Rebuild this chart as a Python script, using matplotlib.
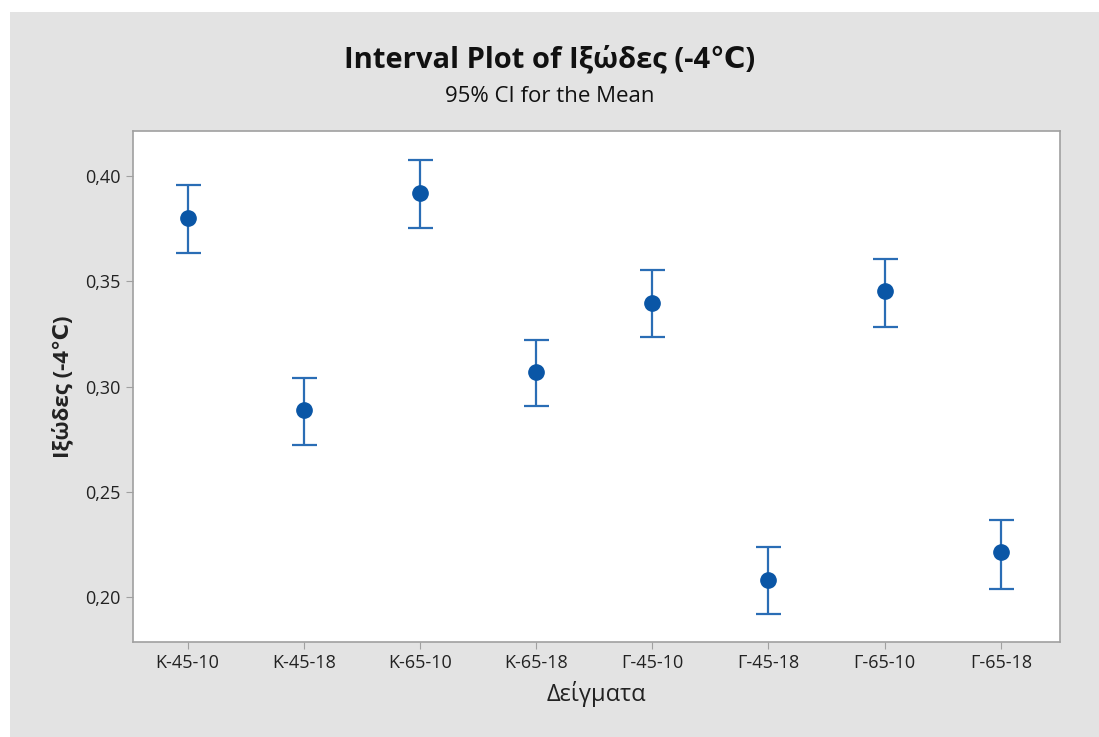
import matplotlib
matplotlib.use("Agg")
import matplotlib.pyplot as plt
from matplotlib.patches import Rectangle
from matplotlib.ticker import FuncFormatter

categories = ["K-45-10", "K-45-18", "K-65-10", "K-65-18", "Γ-45-10", "Γ-45-18", "Γ-65-10", "Γ-65-18"]
means = [0.380, 0.2888, 0.3919, 0.3069, 0.3397, 0.2081, 0.3454, 0.2214]
upper = [0.3957, 0.3040, 0.4076, 0.3221, 0.3553, 0.2238, 0.3606, 0.2366]
lower = [0.3634, 0.2722, 0.3753, 0.2907, 0.3235, 0.1919, 0.3283, 0.2038]
yticks = [0.20, 0.25, 0.30, 0.35, 0.40]

plt.rcParams['font.family'] = ['Open Sans', 'DejaVu Sans']

fig = plt.figure(figsize=(10.99, 7.37), dpi=100, facecolor='white')
fig.patches.append(Rectangle((10/1099, 0), 1 - 10/1099, 1 - 12/737, transform=fig.transFigure,
                             facecolor='#e3e3e3', edgecolor='none', zorder=-10))

ax = fig.add_axes([133/1099, 1 - 642/737, (1060-133)/1099, (642-131)/737])
ax.set_facecolor('white')

x = list(range(len(categories)))
yerr = [[m - l for m, l in zip(means, lower)], [u - m for m, u in zip(means, upper)]]
ax.errorbar(x, means, yerr=yerr, fmt='o', color='#0a56a6', ecolor='#2a6db5',
            markersize=11, elinewidth=1.6, capsize=9, capthick=1.6)

ax.set_xlim(-0.47, 7.51)
ax.set_ylim(0.1786, 0.4214)
ax.set_xticks(x)
ax.set_xticklabels(categories)
ax.set_yticks(yticks)
ax.yaxis.set_major_formatter(FuncFormatter(lambda v, p: f"{v:.2f}".replace('.', ',')))

for s in ax.spines.values():
    s.set_color('#a0a0a0')
    s.set_linewidth(1.2)
ax.tick_params(axis='both', direction='out', length=5, color='#a0a0a0', labelsize=13,
               labelcolor='#222222', pad=4)

ax.set_xlabel("Δείγματα", fontsize=17, color='#222222', labelpad=6)
ax.set_ylabel("Ιξώδες (-4℃)", fontsize=16, fontweight='bold', color='#222222', labelpad=8)

fig.text(0.5, 1 - 60/737, "Interval Plot of Ιξώδες (-4℃)", ha='center', va='center',
         fontsize=21, fontweight='bold', color='#111111')
fig.text(0.5, 1 - 96/737, "95% CI for the Mean", ha='center', va='center',
         fontsize=16, color='#111111')

fig.savefig("out.png", dpi=100, facecolor=fig.get_facecolor())
